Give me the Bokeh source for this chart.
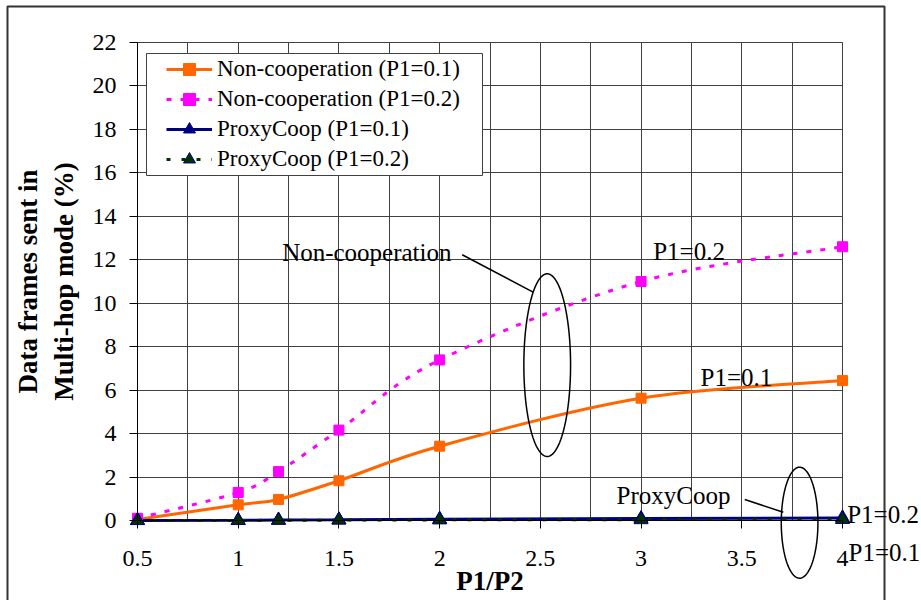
import numpy as np
from bokeh.plotting import figure
from bokeh.models import (Range1d, FixedTicker, NumeralTickFormatter, Legend, LegendItem,
                          Label, PolyAnnotation, BoxAnnotation, Arrow)
from bokeh.embed import file_html
from bokeh.resources import INLINE

# ---------------- data ----------------
ratio = [0.5, 1, 1.2, 1.5, 2, 3, 4]
noncoop_p01 = [0.05, 0.72, 0.97, 1.83, 3.42, 5.63, 6.44]
noncoop_p02 = [0.10, 1.29, 2.25, 4.16, 7.39, 11.0, 12.6]
proxy_p01 = [0.0, 0.01, 0.02, 0.03, 0.06, 0.09, 0.12]
proxy_p02 = [0.0, 0.0, 0.01, 0.02, 0.03, 0.04, 0.05]

series_labels = ["Non-cooperation (P1=0.1)", "Non-cooperation (P1=0.2)",
                 "ProxyCoop (P1=0.1)", "ProxyCoop (P1=0.2)"]
x_ticks = [0.5, 1, 1.5, 2, 2.5, 3, 3.5, 4]
x_grid = [0.5, 0.75, 1, 1.25, 1.5, 1.75, 2, 2.25, 2.5, 2.75, 3, 3.25, 3.5, 3.75, 4]
y_ticks = [0, 2, 4, 6, 8, 10, 12, 14, 16, 18, 20, 22]

FONT = "Liberation Serif"
GRID = "#404040"

# ---------------- layout geometry (pixels) ----------------
W, H = 921, 600
PX_LEFT, PX_RIGHT = 137.0, 842.0      # plot area x = 0.5 .. 4
PX_TOP, PX_BOTTOM = 42.0, 520.0       # plot area y = 22 .. 0
SX = (PX_RIGHT - PX_LEFT) / (4 - 0.5)
SY = (PX_BOTTOM - PX_TOP) / 22.0
X0 = 0.5 - PX_LEFT / SX
X1 = X0 + W / SX
Y1 = 22 + PX_TOP / SY
Y0 = Y1 - H / SY


def px_x(px):
    return X0 + px / SX


def px_y(py):
    return Y1 - py / SY


def smooth(xs, ys):
    """Bezier control points of an Excel-like smoothed line."""
    xs = np.asarray(xs, float)
    ys = np.asarray(ys, float)
    n = len(xs)
    px = np.concatenate([[xs[0]], xs, [xs[-1]]])
    py = np.concatenate([[ys[0]], ys, [ys[-1]]])
    cx0 = xs[:-1] + (px[2:n + 1] - px[0:n - 1]) / 6.0
    cy0 = ys[:-1] + (py[2:n + 1] - py[0:n - 1]) / 6.0
    cx1 = xs[1:] - (px[3:n + 2] - px[1:n]) / 6.0
    cy1 = ys[1:] - (py[3:n + 2] - py[1:n]) / 6.0
    return dict(x0=xs[:-1], y0=ys[:-1], x1=xs[1:], y1=ys[1:],
                cx0=cx0, cy0=cy0, cx1=cx1, cy1=cy1)


p = figure(width=W, height=H, x_range=Range1d(X0, X1), y_range=Range1d(Y0, Y1),
           output_backend="svg", toolbar_location=None,
           min_border_left=0, min_border_right=0, min_border_top=0, min_border_bottom=0)
p.background_fill_color = "white"
p.border_fill_color = "white"
p.outline_line_color = None

# axes
xt = FixedTicker(ticks=x_ticks, minor_ticks=x_grid)
p.xaxis.ticker = xt
p.xaxis.fixed_location = 0
p.xaxis.bounds = (0.5, 4)
p.xaxis.formatter = NumeralTickFormatter(format="0.[0]")
p.xaxis.major_tick_out = 8
p.xaxis.major_tick_in = 0
p.xaxis.minor_tick_out = 0
p.xaxis.minor_tick_in = 0
p.xaxis.major_label_standoff = 22
p.xaxis.axis_label = "P1/P2"
p.xaxis.axis_label_standoff = -3

yt = FixedTicker(ticks=y_ticks)
p.yaxis.ticker = yt
p.yaxis.fixed_location = 0.5
p.yaxis.bounds = (0, 22)
p.yaxis.major_tick_out = 8
p.yaxis.major_tick_in = 0
p.yaxis.minor_tick_out = 0
p.yaxis.minor_tick_in = 0
p.yaxis.major_label_standoff = 13
p.yaxis.axis_label = "Data frames sent in\nMulti-hop mode (%)"
p.yaxis.axis_label_standoff = 11

for ax in (p.xaxis[0], p.yaxis[0]):
    ax.axis_line_color = "black"
    ax.major_tick_line_color = "black"
    ax.major_label_text_font = FONT
    ax.major_label_text_font_size = "24px"
    ax.major_label_text_color = "black"
    ax.axis_label_text_font = FONT
    ax.axis_label_text_font_size = "27px"
    ax.axis_label_text_font_style = "bold"
    ax.axis_label_text_color = "black"

p.xgrid.ticker = xt
p.xgrid.bounds = (0.5, 4)
p.xgrid.cross_bounds = (0, 22)
p.xgrid.grid_line_color = GRID
p.xgrid.minor_grid_line_color = GRID
p.ygrid.ticker = yt
p.ygrid.bounds = (0, 22)
p.ygrid.cross_bounds = (0.5, 4)
p.ygrid.grid_line_color = GRID

# ---------------- outer chart border and legend box ----------------
p.add_layout(BoxAnnotation(left=px_x(7), right=px_x(884), top=px_y(6), bottom=px_y(700),
                           fill_alpha=0, line_color="#333333", line_width=2, line_alpha=1))
p.add_layout(BoxAnnotation(left=px_x(146), right=px_x(482), top=px_y(53), bottom=px_y(175),
                           fill_color="white", fill_alpha=1, line_color=GRID, line_width=1,
                           line_alpha=1))

# ---------------- series ----------------
ORANGE = "#FF6600"
MAGENTA = "#FF00FF"
NAVY = "#000080"
DGREEN = "#003300"

r1l = p.bezier(source=smooth(ratio, noncoop_p01), x0="x0", y0="y0", x1="x1", y1="y1",
               cx0="cx0", cy0="cy0", cx1="cx1", cy1="cy1", line_color=ORANGE, line_width=3)
r2l = p.bezier(source=smooth(ratio, noncoop_p02), x0="x0", y0="y0", x1="x1", y1="y1",
               cx0="cx0", cy0="cy0", cx1="cx1", cy1="cy1", line_color=MAGENTA, line_width=3,
               line_dash="5 9")
r3l = p.line(ratio, proxy_p01, line_color=NAVY, line_width=3)
r4l = p.line(ratio, proxy_p02, line_color=DGREEN, line_width=3, line_dash="4 11")

r1m = p.scatter(ratio, noncoop_p01, marker="square", size=10, fill_color=ORANGE, line_color=ORANGE)
r2m = p.scatter(ratio, noncoop_p02, marker="square", size=10, fill_color=MAGENTA, line_color=MAGENTA)
r3m = p.scatter(ratio, proxy_p01, marker="triangle", size=14, fill_color=NAVY, line_color=NAVY)
r4m = p.scatter(ratio, proxy_p02, marker="triangle", size=14, fill_color=DGREEN, line_color=NAVY)

legend = Legend(items=[
    LegendItem(label=series_labels[0], renderers=[r1l, r1m]),
    LegendItem(label=series_labels[1], renderers=[r2l, r2m]),
    LegendItem(label=series_labels[2], renderers=[r3l, r3m]),
    LegendItem(label=series_labels[3], renderers=[r4l, r4m]),
], location=(166, H - 174))
legend.margin = 0
legend.padding = 0
legend.spacing = 0
legend.label_height = 30
legend.glyph_width = 46
legend.glyph_height = 30
legend.label_standoff = 5
legend.label_text_font = FONT
legend.label_text_font_size = "23px"
legend.label_text_color = "black"
legend.border_line_color = None
legend.background_fill_alpha = 0
p.add_layout(legend)

# ---------------- annotations ----------------
def ellipse(cx, cy, w, h, n=120):
    t = np.linspace(0, 2 * np.pi, n)
    return list(cx + w / 2 * np.cos(t)), list(cy + h / 2 * np.sin(t))

ex, ey = ellipse(2.534, 7.15, 0.232, 8.41)
p.add_layout(PolyAnnotation(xs=ex, ys=ey, fill_alpha=0, line_color="black",
                            line_alpha=1, line_width=1.5))
ex2, ey2 = ellipse(3.787, -0.10, 0.182, 5.11)
p.add_layout(PolyAnnotation(xs=ex2, ys=ey2, fill_alpha=0, line_color="black",
                            line_alpha=1, line_width=1.5))

p.add_layout(Arrow(end=None, x_start=2.112, y_start=12.23, x_end=2.464, y_end=10.51,
                   line_color="black", line_width=1.5))
p.add_layout(Arrow(end=None, x_start=3.515, y_start=0.967, x_end=3.706, y_end=0.38,
                   line_color="black", line_width=1.5))

for txt, lx, ly in [("Non-cooperation", 1.218, 12.32), ("P1=0.2", 3.06, 12.39),
                    ("P1=0.1", 3.295, 6.60), ("ProxyCoop", 2.878, 1.15),
                    ("P1=0.2", 4.023, 0.276), ("P1=0.1", 4.03, -1.46)]:
    p.add_layout(Label(x=lx, y=ly, text=txt, text_font=FONT, text_font_size="25px",
                       text_color="black", text_baseline="alphabetic", text_align="left"))

open("out.html", "w").write(file_html(p, INLINE))
